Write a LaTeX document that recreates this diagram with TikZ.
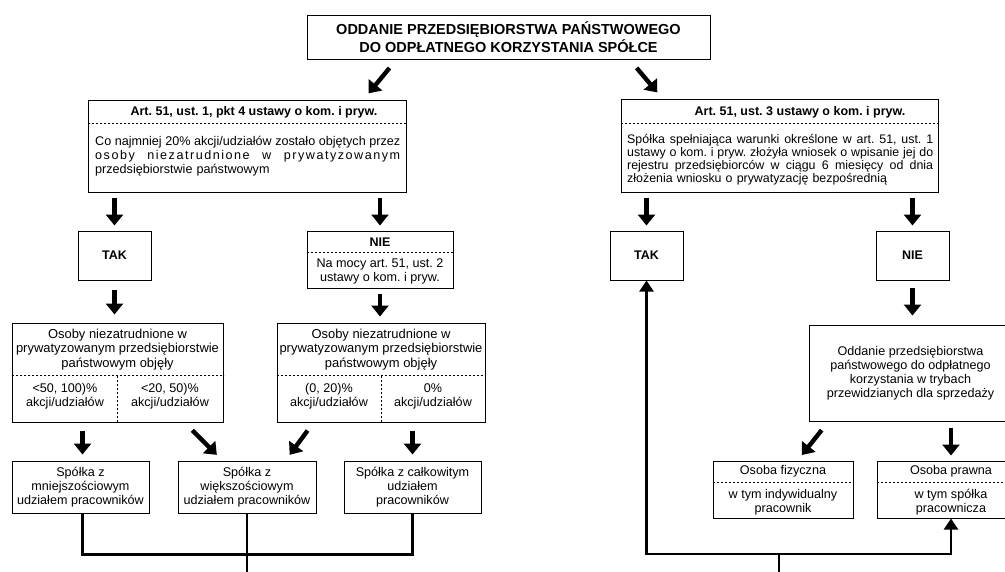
\documentclass[tikz,border=0pt]{standalone}
\usepackage{fontspec}
\setmainfont{Liberation Sans}
\usetikzlibrary{arrows.meta,calc}

\newcommand\bodyfont{\frenchspacing\fontsize{12.6}{14}\selectfont}
\newcommand\bigbodyfont{\frenchspacing\fontsize{12.95}{14.2}\selectfont}
\newcommand\artfont{\frenchspacing\fontsize{12.4}{13.2}\selectfont}
\newcommand\headfont{\bfseries\frenchspacing\fontsize{12.5}{14}\selectfont}
\newcommand\titlefont{\bfseries\fontsize{14.5}{17.5}\selectfont}
\newcommand\fitline[2]{\makebox[#1][s]{\spaceskip=0.28em plus 1fil\relax #2}}

\tikzset{
  frame/.style={draw, line width=1pt, align=center, inner sep=1pt, font=\bodyfont},
  divider/.style={line width=0.9pt, dash pattern=on 2pt off 2pt},
  bigarrow/.style={line width=4.4pt, -{Triangle[width=17pt,length=11pt]}},
  link/.style={line width=2.4pt},
  linkarrow/.style={line width=2.4pt, -{Triangle[width=14pt,length=11pt]}}
}

\begin{document}
\begin{tikzpicture}[x=1pt,y=-1pt]
\useasboundingbox (0,0) rectangle (1005,571);
\clip (0,0) rectangle (1005,571);

\node[frame, font=\titlefont, minimum width=403pt, minimum height=44pt] (title) at (508.5,37)
  {ODDANIE PRZEDSIĘBIORSTWA PAŃSTWOWEGO\\DO ODPŁATNEGO KORZYSTANIA SPÓŁCE};

\node[frame, minimum width=318pt, minimum height=92pt] (art1) at (247,146) {};
\node[font=\headfont] (art1head) at (254,112) {Art. 51, ust. 1, pkt 4 ustawy o kom. i pryw.};
\draw[divider] ([yshift=-24pt]art1.north west) -- ([yshift=-24pt]art1.north east);
\node[font=\bodyfont, anchor=north west, inner sep=0pt, text width=305pt, align=left] (art1body) at (95,136.5)
  {\fitline{305pt}{Co najmniej 20\% akcji/udziałów zostało objętych przez}\\
   \fitline{305pt}{\addfontfeature{LetterSpace=12}osoby niezatrudnione w prywatyzowanym}\\
   przedsiębiorstwie państwowym};

\node[frame, minimum width=317pt, minimum height=93pt] (art2) at (779.5,145.5) {};
\node[font=\headfont] (art2head) at (800,112) {Art. 51, ust. 3 ustawy o kom. i pryw.};
\draw[divider] ([yshift=-25pt]art2.north west) -- ([yshift=-25pt]art2.north east);
\node[font=\artfont, anchor=north west, inner sep=0pt, text width=306pt, align=left] (art2body) at (627,134)
  {\fitline{306pt}{Spółka spełniająca warunki określone w art. 51, ust. 1}\\
   \fitline{306pt}{ustawy o kom. i pryw. złożyła wniosek o wpisanie jej do}\\
   \fitline{306pt}{rejestru przedsiębiorców w ciągu 6 miesięcy od dnia}\\
   złożenia wniosku o prywatyzację bezpośrednią};

\node[frame, font=\headfont, minimum width=73pt, minimum height=49pt] (tak1) at (114.5,255.5) {TAK};
\node[frame, font=\headfont, minimum width=73pt, minimum height=49pt] (tak2) at (646.5,255.5) {TAK};
\node[frame, font=\headfont, minimum width=73pt, minimum height=49pt] (nie2) at (912.5,255.5) {NIE};

\node[frame, minimum width=146pt, minimum height=57pt] (nie1) at (380,259.5) {};
\node[font=\headfont] (nie1head) at (380,242) {NIE};
\draw[divider] ([yshift=-22pt]nie1.north west) -- ([yshift=-22pt]nie1.north east);
\node[font=\bodyfont, align=center] (nie1body) at (380,271) {Na mocy art. 51, ust. 2\\ustawy o kom. i pryw.};

\node[frame, minimum width=211pt, minimum height=99pt] (osoby1) at (117.5,372.5) {};
\node[frame, minimum width=208pt, minimum height=99pt] (osoby2) at (381,372.5) {};
\foreach \o in {osoby1,osoby2}{
  \node[font=\bigbodyfont, align=center] (\o top) at ($(\o)+(0,-23)$)
    {Osoby niezatrudnione w\\prywatyzowanym przedsiębiorstwie\\państwowym objęły};
  \draw[divider] ([yshift=-53pt]\o.north west) -- ([yshift=-53pt]\o.north east);
  \draw[divider] ([yshift=-53pt]\o.north) -- (\o.south);
}
\node[font=\bodyfont, align=center] (osoby1a) at (65,396.5) {<50, 100)\%\\akcji/udziałów};
\node[font=\bodyfont, align=center] (osoby1b) at (170,396.5) {<20, 50)\%\\akcji/udziałów};
\node[font=\bodyfont, align=center] (osoby2a) at (329,396.5) {(0, 20)\%\\akcji/udziałów};
\node[font=\bodyfont, align=center] (osoby2b) at (433,396.5) {0\%\\akcji/udziałów};

\node[frame, minimum width=203pt, minimum height=96pt] (oddanie) at (910.5,373)
  {Oddanie przedsiębiorstwa\\państwowego do odpłatnego\\korzystania w trybach\\przewidzianych dla sprzedaży};

\node[frame, minimum width=137pt, minimum height=52pt] (box1) at (80.5,487) {Spółka z\\mniejszościowym\\udziałem pracowników};
\node[frame, minimum width=138pt, minimum height=52pt] (box2) at (247,487) {Spółka z\\większościowym\\udziałem pracowników};
\node[frame, minimum width=137pt, minimum height=52pt] (box3) at (412.5,487) {Spółka z całkowitym\\udziałem\\pracowników};

\node[frame, minimum width=140pt, minimum height=57pt] (fizyczna) at (783,489.5) {};
\node[frame, minimum width=148pt, minimum height=57pt] (prawna) at (951,489.5) {};
\draw[divider] ([yshift=-22pt]fizyczna.north west) -- ([yshift=-22pt]fizyczna.north east);
\draw[divider] ([yshift=-22pt]prawna.north west) -- ([yshift=-22pt]prawna.north east);
\node[font=\bodyfont] (fizycznahead) at (783,471) {Osoba fizyczna};
\node[font=\bodyfont, align=center] (fizycznabody) at (783,502.5) {w tym indywidualny\\pracownik};
\node[font=\bodyfont] (prawnahead) at (951,471) {Osoba prawna};
\node[font=\bodyfont, align=center] (prawnabody) at (951,502.5) {w tym spółka\\pracownicza};

\draw[bigarrow, shorten <=11pt, shorten >=8pt] ([xshift=90pt]title.south west) -- ([xshift=276pt]art1.north west);
\draw[bigarrow, shorten <=11pt, shorten >=8pt] ([xshift=323pt]title.south west) -- ([xshift=42pt]art2.north west);
\foreach \a/\b in {tak1/art1,nie1/art1,tak2/art2,nie2/art2}
  \draw[bigarrow, shorten <=5pt, shorten >=5pt] (\a |- \b.south) -- (\a.north);
\draw[bigarrow, shorten <=9pt, shorten >=8pt] (tak1.south) -- (tak1.south |- osoby1.north);
\draw[bigarrow, shorten <=5pt, shorten >=6pt] (nie1.south) -- (nie1.south |- osoby2.north);
\draw[bigarrow, shorten <=7pt, shorten >=9pt] (nie2.south) -- (nie2.south |- oddanie.north);
\draw[bigarrow, shorten <=8pt, shorten >=6pt] ([xshift=71pt]osoby1.south west) -- ([xshift=71pt]box1.north west);
\draw[bigarrow, shorten <=11pt, shorten >=8pt] ([xshift=173pt]osoby1.south west) -- ([xshift=45pt]box2.north west);
\draw[bigarrow, shorten <=10pt, shorten >=7pt] ([xshift=37pt]osoby2.south west) -- ([xshift=108pt]box2.north west);
\draw[bigarrow, shorten <=8pt, shorten >=6pt] (box3 |- osoby2.south) -- (box3.north);
\draw[bigarrow, shorten <=11pt, shorten >=7pt] ([xshift=20pt]oddanie.south west) -- ([xshift=85pt]fizyczna.north west);
\draw[bigarrow, shorten <=6pt, shorten >=5pt] (prawna |- oddanie.south) -- (prawna.north);

\coordinate (exitL) at (247,575);
\coordinate (joinR) at (779,554);
\coordinate (exitR) at (779,575);
\draw[link] ([xshift=2pt]box1.south) -- ++(0,41) -| (box3.south);
\draw[link] (box2.south) -- (exitL);
\draw[link] (exitR) -- (joinR);
\draw[linkarrow] (joinR) -| (tak2.south);
\draw[linkarrow] (joinR) -| (prawna.south);
\end{tikzpicture}
\end{document}
